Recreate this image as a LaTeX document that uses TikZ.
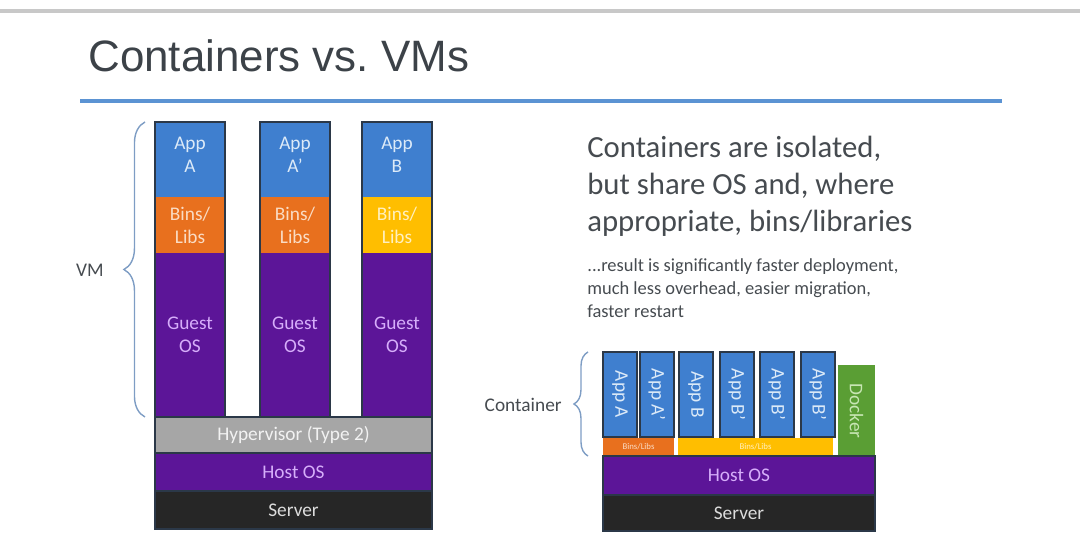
\documentclass[tikz,border=0pt]{standalone}
\usepackage{fontspec}
\setmainfont{Carlito}
\newfontfamily\titlefont{Liberation Sans}
\usetikzlibrary{decorations.pathreplacing}
\definecolor{rulegray}{HTML}{C8C8C8}
\definecolor{ruleblue}{HTML}{5B93D3}
\definecolor{titlegray}{HTML}{3C4248}
\definecolor{textgray}{HTML}{464B50}
\definecolor{appblue}{HTML}{3F7FCF}
\definecolor{apptext}{HTML}{DCEAF8}
\definecolor{binsorange}{HTML}{E8701E}
\definecolor{orangetext}{HTML}{FADCC4}
\definecolor{binsyellow}{HTML}{FFBE00}
\definecolor{yellowtext}{HTML}{FFF0C0}
\definecolor{ospurple}{HTML}{5C1598}
\definecolor{ostext}{HTML}{D6AEFA}
\definecolor{hypgray}{HTML}{A6A6A6}
\definecolor{hyptext}{HTML}{F2F2F2}
\definecolor{serverblack}{HTML}{262626}
\definecolor{servertext}{HTML}{DCDCDC}
\definecolor{dockgreen}{HTML}{5A9E34}
\definecolor{docktext}{HTML}{C8E6B4}
\definecolor{edge}{HTML}{2B3848}
\definecolor{bracecol}{HTML}{7E9DC4}
\tikzset{
  blk/.style={inner sep=0pt, outer sep=0pt, anchor=north west, align=center,
    font=\fontsize{11}{13}\selectfont},
  sz/.style 2 args={minimum width=#1*0.02cm, minimum height=#2*0.02cm},
  layer/.style={blk, draw=edge, line width=0.6pt},
  lbl/.style={inner sep=0pt, text=textgray, font=\fontsize{11}{13}\selectfont},
  brace/.style={decorate, decoration={brace, amplitude=#1}, color=bracecol, line width=0.8pt}
}
\begin{document}
\begin{tikzpicture}[x=0.02cm, y=-0.02cm]
\useasboundingbox (0,0) rectangle (1080,536);
\draw[color=rulegray, line width=2.2pt] (0,11) -- (1080,11);
\node[anchor=base west, inner sep=0pt, text=titlegray, font=\titlefont\fontsize{25}{30}\selectfont] (title) at (88,72) {Containers vs.\ VMs};
\draw[color=ruleblue, line width=2pt] (80,101) -- (1002,101);

% virtual machines
\foreach \i/\x/\name/\bins/\bt in {1/155/A/binsorange/orangetext, 2/260/A’/binsorange/orangetext, 3/362/B/binsyellow/yellowtext} {
  \node[blk, sz={70}{75}, fill=appblue, label={[align=center, text=apptext, font=\fontsize{11}{13}\selectfont, yshift=0.1cm]center:App\\\name}] (app\i) at (\x,122) {};
  \node[blk, sz={70}{56}, fill=\bins, text=\bt] (bins\i) at (\x,197) {Bins/\\Libs};
  \node[blk, sz={70}{164}, fill=ospurple, text=ostext] (guest\i) at (\x,253) {Guest\\OS};
  \draw[color=edge, line width=1.3pt] (app\i.north west) rectangle (guest\i.south east);
}
\node[layer, sz={277}{36}, fill=hypgray, text=hyptext] (hyp) at (155,417) {Hypervisor (Type 2)};
\node[layer, sz={277}{38}, fill=ospurple, text=ostext] (host) at (155,453) {Host OS};
\node[layer, sz={277}{38}, fill=serverblack, text=servertext] (server) at (155,491) {Server};
\draw[brace=12pt] ([xshift=-0.2cm]guest1.south west) -- ([xshift=-0.2cm]app1.north west);
\node[lbl, anchor=east] (vm) at (104,270) {VM};

% text
\node[anchor=north west, inner sep=0pt, align=left, text=textgray, font=\fontsize{17.5}{21}\selectfont] (claim) at (587,136) {Containers are isolated,\\but share OS and, where\\appropriate, bins/libraries};
\node[anchor=north west, inner sep=0pt, align=left, text=textgray, font=\fontsize{10.5}{13.3}\selectfont] (result) at (587,258) {...result is significantly faster deployment,\\much less overhead, easier migration,\\faster restart};

% containers
\foreach \i/\x/\name in {1/603/A, 2/640/A’, 3/679/B, 4/720/B’, 5/760/B’, 6/801/B’} {
  \node[layer, line width=1pt, sz={34}{85}, fill=appblue, label={[rotate=-90, text=apptext, font=\fontsize{11}{13}\selectfont]center:App \name}] (capp\i) at (\x,352) {};
}
\node[blk, sz={71}{18}, fill=binsorange, text=orangetext, font=\fontsize{5}{6}\selectfont] (cbins1) at (603,438) {Bins/Libs};
\node[blk, sz={155}{18}, fill=binsyellow, text=yellowtext, font=\fontsize{5}{6}\selectfont] (cbins2) at (678,438) {Bins/Libs};
\node[blk, sz={37}{92}, fill=dockgreen, label={[rotate=-90, text=docktext, font=\fontsize{11}{13}\selectfont]center:Docker}] (docker) at (838,365) {};
\node[layer, sz={272}{39}, fill=ospurple, text=ostext] (chost) at (603,456) {Host OS};
\node[layer, sz={272}{36}, fill=serverblack, text=servertext] (cserver) at (603,495) {Server};
\draw[brace=8pt] ([xshift=-0.3cm]cbins1.south west) -- ([xshift=-0.3cm]capp1.north west);
\node[lbl, anchor=east] (contlbl) at (562,405) {Container};
\end{tikzpicture}
\end{document}
